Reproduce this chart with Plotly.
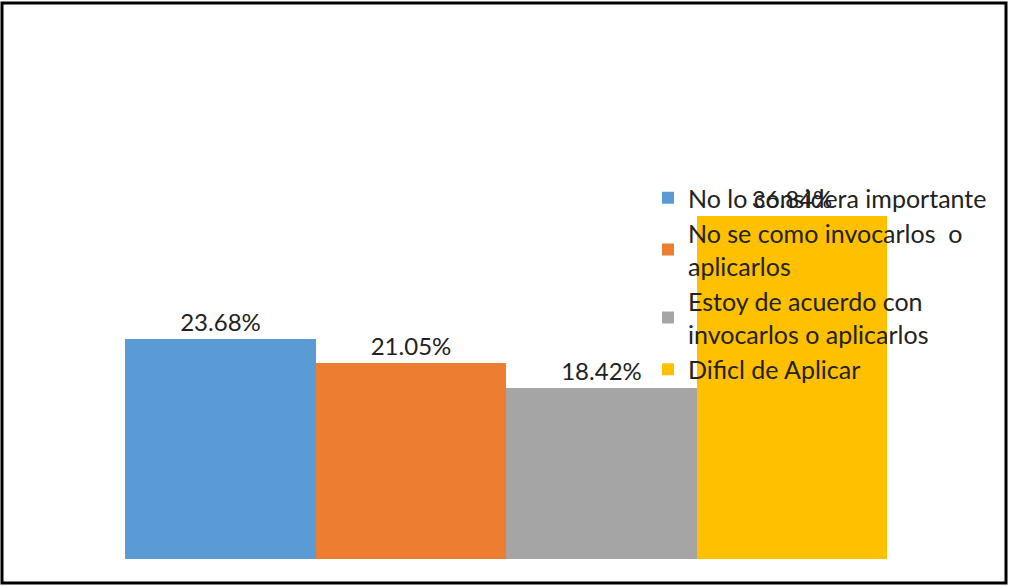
import plotly.graph_objects as go

categories = ["No lo considera importante",
              "No se como invocarlos  o<br>aplicarlos",
              "Estoy de acuerdo con<br>invocarlos o aplicarlos",
              "Dificl de Aplicar"]
values = [23.68, 21.05, 18.42, 36.84]
labels = ["23.68%", "21.05%", "18.42%", "36.84%"]
colors = ["#5B9BD5", "#ED7D31", "#A5A5A5", "#FFC000"]

fig = go.Figure()
for name, v, lab, c in zip(categories, values, labels, colors):
    fig.add_trace(go.Bar(
        x=["g"], y=[v], name=name, marker=dict(color=c, line=dict(width=0)),
        text=[lab], textposition="outside", cliponaxis=False,
        textfont=dict(family="Lato", size=24, color="#222222"),
    ))

W, H = 1009, 586
l, r, t, b = 125, 122, 187, 27
pw, ph = W - l - r, H - t - b

def px(xp):
    return (xp - l) / pw

def py(yp):
    return (H - b - yp) / ph

fig.update_layout(
    width=W, height=H,
    margin=dict(l=l, r=r, t=t, b=b, pad=0),
    barmode="group", bargap=0, bargroupgap=0,
    paper_bgcolor="white", plot_bgcolor="white",
    xaxis=dict(visible=False, range=[-0.5, 0.5]),
    yaxis=dict(visible=False, range=[0, 40]),
    font=dict(family="Lato", size=22, color="#222222"),
    legend=dict(x=px(648), y=py(175), xanchor="left", yanchor="top",
                bgcolor="rgba(0,0,0,0)", font=dict(family="Lato", size=25, color="#222222"),
                traceorder="normal"),
    showlegend=True,
    shapes=[dict(type="rect", xref="paper", yref="paper",
                 x0=px(2), x1=px(1006), y0=py(583), y1=py(3),
                 line=dict(color="black", width=3), fillcolor="rgba(0,0,0,0)", layer="above")],
)

fig.write_html("out.html", config={"displayModeBar": False},
               post_script="document.body.style.margin='0';document.body.style.padding='0';")
